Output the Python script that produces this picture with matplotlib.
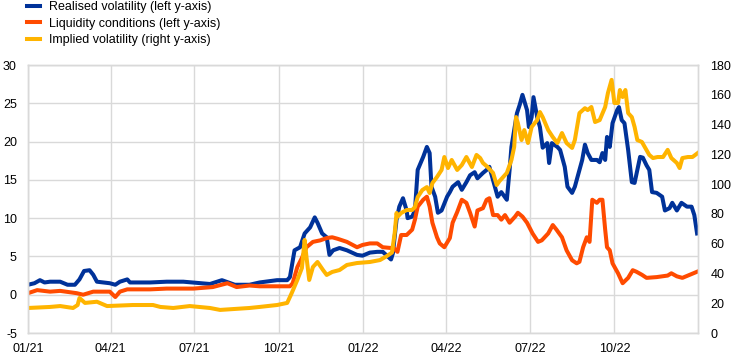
import matplotlib
matplotlib.use("Agg")
import matplotlib.pyplot as plt
import pandas as pd

plt.rcParams['font.family'] = ['Liberation Sans', 'DejaVu Sans']
plt.rcParams['axes.unicode_minus'] = False

# ---------------- data ----------------
real_dates = ["2021-01-01","2021-01-08","2021-01-14","2021-01-19","2021-01-25","2021-02-05","2021-02-13",
 "2021-02-21","2021-02-26","2021-03-03","2021-03-09","2021-03-13","2021-03-17","2021-03-31","2021-04-06",
 "2021-04-11","2021-04-19","2021-04-22","2021-05-14","2021-06-01","2021-06-19","2021-07-18","2021-07-31",
 "2021-08-14","2021-08-30","2021-09-10","2021-09-29","2021-10-10","2021-10-13","2021-10-18","2021-10-24",
 "2021-10-29","2021-11-04","2021-11-09","2021-11-12","2021-11-17","2021-11-22","2021-11-25","2021-11-29",
 "2021-12-06","2021-12-14","2021-12-25","2021-12-31","2022-01-08","2022-01-16","2022-01-22","2022-01-31",
 "2022-02-02","2022-02-06","2022-02-09","2022-02-13","2022-02-17","2022-02-18","2022-02-23","2022-02-26",
 "2022-03-01","2022-03-07","2022-03-11","2022-03-14","2022-03-16","2022-03-20","2022-03-23","2022-03-27",
 "2022-04-02","2022-04-05","2022-04-08","2022-04-14","2022-04-18","2022-04-23","2022-04-27","2022-05-02",
 "2022-05-05","2022-05-11","2022-05-15","2022-05-18","2022-05-24","2022-05-27","2022-05-31","2022-06-06",
 "2022-06-09","2022-06-11","2022-06-17","2022-06-20","2022-06-23","2022-06-28","2022-06-30","2022-07-03",
 "2022-07-05","2022-07-09","2022-07-12","2022-07-15","2022-07-20","2022-07-22","2022-07-25","2022-07-31",
 "2022-08-03","2022-08-08","2022-08-11","2022-08-16","2022-08-19","2022-08-22","2022-08-27","2022-08-30",
 "2022-09-02","2022-09-06","2022-09-12","2022-09-15","2022-09-18","2022-09-21","2022-09-23","2022-09-26",
 "2022-09-29","2022-10-04","2022-10-06","2022-10-09","2022-10-12","2022-10-16","2022-10-20","2022-10-23",
 "2022-10-26","2022-10-29","2022-11-01","2022-11-05","2022-11-08","2022-11-11","2022-11-16","2022-11-22",
 "2022-11-25","2022-11-30","2022-12-03","2022-12-08","2022-12-13","2022-12-19","2022-12-24","2022-12-27",
 "2022-12-30"]
realised = [1.3,1.5,1.9,1.6,1.7,1.7,1.3,
 1.3,2.0,3.1,3.2,2.6,1.7,1.5,1.3,
 1.7,2.0,1.6,1.6,1.7,1.7,1.4,1.9,
 1.3,1.3,1.6,1.9,1.9,2.3,5.8,6.2,
 8.0,8.8,10.1,9.4,8.0,7.5,5.2,5.8,
 6.1,5.8,5.2,5.1,5.5,5.6,5.6,4.6,
 5.4,9.8,11.5,12.6,11.0,10.0,10.2,11.0,
 16.3,18.0,19.3,18.5,14.1,12.8,10.7,11.0,
 12.8,13.4,14.1,14.7,13.7,14.7,15.6,16.0,
 15.2,15.9,16.3,16.7,14.1,12.8,13.4,12.4,
 16.3,19.3,23.7,24.8,26.1,24.1,21.9,23.2,
 25.8,23.2,21.9,19.2,19.8,17.2,19.8,19.3,
 18.9,16.7,14.1,13.3,14.1,15.4,17.6,19.6,
 18.5,17.6,17.6,17.3,18.5,17.6,20.6,19.3,
 22.4,24.1,24.5,22.8,22.4,18.9,14.7,14.6,
 16.3,18.0,17.9,16.9,16.3,13.4,13.3,12.8,
 11.0,11.3,12.0,11.0,12.0,11.5,11.5,10.4,
 8.0]

liq_dates = ["2021-01-01","2021-01-11","2021-01-25","2021-02-05","2021-02-23","2021-03-02","2021-03-13",
 "2021-03-31","2021-04-06","2021-04-11","2021-04-19","2021-05-14","2021-06-01","2021-06-30","2021-07-21",
 "2021-08-06","2021-08-16","2021-08-30","2021-09-10","2021-10-13","2021-10-16","2021-10-21","2021-10-26",
 "2021-10-31","2021-11-07","2021-11-15","2021-11-22","2021-11-28","2021-12-04","2021-12-14","2021-12-25",
 "2021-12-31","2022-01-08","2022-01-16","2022-01-22","2022-01-31","2022-02-02","2022-02-07","2022-02-11",
 "2022-02-17","2022-02-23","2022-02-26","2022-03-01","2022-03-07","2022-03-11","2022-03-14","2022-03-17",
 "2022-03-22","2022-03-25","2022-03-30","2022-04-05","2022-04-08","2022-04-13","2022-04-18","2022-04-23",
 "2022-04-27","2022-05-02","2022-05-05","2022-05-11","2022-05-15","2022-05-18","2022-05-22","2022-05-27",
 "2022-05-31","2022-06-04","2022-06-09","2022-06-15","2022-06-18","2022-06-23","2022-06-28","2022-07-04",
 "2022-07-10","2022-07-14","2022-07-21","2022-07-26","2022-07-30","2022-08-05","2022-08-10","2022-08-16",
 "2022-08-21","2022-08-24","2022-08-28","2022-09-01","2022-09-04","2022-09-07","2022-09-12","2022-09-15",
 "2022-09-18","2022-09-21","2022-09-23","2022-09-26","2022-09-29","2022-10-05","2022-10-10","2022-10-16",
 "2022-10-21","2022-10-25","2022-10-31","2022-11-05","2022-11-16","2022-11-28","2022-12-02","2022-12-08",
 "2022-12-14","2022-12-22","2022-12-30"]
liquidity = [0.2,0.6,0.4,0.5,0.2,0.0,0.4,
 0.4,-0.3,0.4,0.7,0.7,0.8,0.8,1.0,
 1.5,1.0,1.2,1.1,1.1,1.5,3.6,4.8,
 6.2,6.9,7.1,7.4,7.5,7.3,6.9,6.2,
 6.5,6.7,6.7,6.2,6.1,6.2,5.6,7.8,
 7.8,8.5,9.8,11.5,12.4,12.8,11.5,9.4,
 7.5,6.7,6.2,7.4,9.4,10.8,12.4,12.0,
 10.7,8.9,11.0,11.3,12.4,12.6,10.4,10.4,
 9.8,10.4,9.4,10.2,10.7,10.2,9.4,8.0,
 6.9,7.1,8.0,9.1,8.5,7.5,5.8,4.5,
 4.1,4.3,6.2,7.5,6.9,12.4,12.0,12.4,
 12.4,8.5,6.2,5.8,4.1,2.8,1.5,2.2,
 3.2,3.0,2.6,2.2,2.3,2.5,2.8,2.4,
 2.2,2.6,3.0]

impl_dates = ["2021-01-01","2021-01-25","2021-02-05","2021-02-19","2021-02-24","2021-02-26","2021-03-04",
 "2021-03-17","2021-03-28","2021-04-25","2021-05-17","2021-05-25","2021-06-08","2021-06-26","2021-07-18",
 "2021-07-29","2021-08-30","2021-09-10","2021-09-29","2021-10-10","2021-10-15","2021-10-21","2021-10-26",
 "2021-10-29","2021-10-31","2021-11-03","2021-11-07","2021-11-12","2021-11-18","2021-11-22","2021-11-28",
 "2021-12-06","2021-12-14","2021-12-25","2022-01-08","2022-01-19","2022-01-26","2022-02-01","2022-02-04",
 "2022-02-06","2022-02-07","2022-02-11","2022-02-17","2022-02-23","2022-02-26","2022-03-01","2022-03-06",
 "2022-03-11","2022-03-14","2022-03-17","2022-03-22","2022-03-27","2022-03-30","2022-04-03","2022-04-07",
 "2022-04-13","2022-04-18","2022-04-23","2022-04-29","2022-05-04","2022-05-08","2022-05-11","2022-05-16",
 "2022-05-22","2022-05-26","2022-05-29","2022-06-06","2022-06-11","2022-06-14","2022-06-16","2022-06-18",
 "2022-06-22","2022-06-25","2022-06-29","2022-07-03","2022-07-09","2022-07-12","2022-07-15","2022-07-21",
 "2022-07-26","2022-07-31","2022-08-05","2022-08-10","2022-08-16","2022-08-19","2022-08-24","2022-08-30",
 "2022-09-02","2022-09-06","2022-09-10","2022-09-15","2022-09-21","2022-09-24","2022-09-28","2022-10-01",
 "2022-10-05","2022-10-07","2022-10-10","2022-10-13","2022-10-16","2022-10-20","2022-10-23","2022-10-26",
 "2022-10-31","2022-11-03","2022-11-08","2022-11-12","2022-11-17","2022-11-23","2022-11-28","2022-12-02",
 "2022-12-08","2022-12-11","2022-12-14","2022-12-20","2022-12-25","2022-12-31"]
implied = [16.8,17.5,18.1,16.8,18.8,23.5,20.2,
 21.0,18.1,18.8,18.8,17.5,16.8,18.1,16.8,
 15.5,16.8,17.5,18.8,20.2,26.9,35.6,43.6,
 62.5,51.0,35.6,44.3,47.7,42.3,39.0,41.0,
 42.3,45.7,47.0,47.7,49.0,51.5,54.0,67.2,
 80.6,78.0,80.6,82.6,82.6,84.6,91.3,96.0,
 98.0,94.0,100.7,104.8,109.5,118.2,110.8,116.2,
 109.5,112.8,118.2,111.5,119.6,117.5,114.2,111.5,
 107.5,99.4,102.0,107.5,116.2,125.0,145.0,141.0,
 129.6,136.3,127.6,138.4,143.0,148.4,145.0,136.3,
 131.6,127.6,134.3,127.6,124.3,129.6,147.7,151.0,
 149.7,151.8,141.7,143.0,151.8,161.2,170.0,154.5,
 154.5,163.2,158.5,163.2,147.7,145.0,138.4,129.6,
 128.3,125.0,119.6,117.5,118.2,118.2,123.0,117.5,
 114.2,110.8,117.5,118.2,118.2,121.0]

labels = ["Realised volatility (left y-axis)",
          "Liquidity conditions (left y-axis)",
          "Implied volatility (right y-axis)"]
tick_dates = ["2021-01-01","2021-04-01","2021-07-01","2021-10-01",
              "2022-01-01","2022-04-01","2022-07-01","2022-10-01"]
tick_labels = ["01/21","04/21","07/21","10/21","01/22","04/22","07/22","10/22"]

# ---------------- plot ----------------
BLUE = "#003299"
ORANGE = "#ff4b00"
YELLOW = "#ffb400"
GRID = "#d9d9d9"

fig = plt.figure(figsize=(7.44, 3.61), dpi=100)
ax = fig.add_axes([28/744, 28/361, 670/744, 268/361])
ax2 = ax.twinx()

lw = 2.9
l1, = ax.plot(pd.to_datetime(real_dates), realised, color=BLUE, lw=lw, solid_joinstyle='round')
l2, = ax.plot(pd.to_datetime(liq_dates), liquidity, color=ORANGE, lw=lw, solid_joinstyle='round')
l3, = ax2.plot(pd.to_datetime(impl_dates), implied, color=YELLOW, lw=lw, solid_joinstyle='round')

ax.set_xlim(pd.Timestamp("2021-01-01"), pd.Timestamp("2022-12-31"))
ax.set_ylim(-5, 30)
ax.set_yticks(range(-5, 31, 5))
ax2.set_ylim(0, 180)
ax2.set_yticks(range(0, 181, 20))

ax.set_xticks(pd.to_datetime(tick_dates))
ax.set_xticklabels(tick_labels)

ax.grid(True, color=GRID, lw=1.0)
ax.set_axisbelow(True)
ax2.grid(False)

for a in (ax, ax2):
    for s in a.spines.values():
        s.set_color(GRID)
        s.set_linewidth(1.0)
    a.tick_params(length=0, labelsize=9, colors="#000000")
ax.tick_params(axis='y', pad=8)
ax.tick_params(axis='x', pad=7)
ax2.tick_params(axis='y', pad=9)

fig.legend([l1, l2, l3], labels, loc='upper left', bbox_to_anchor=(26/744, 1.0),
           frameon=False, fontsize=9, handlelength=1.0, handletextpad=0.75,
           labelspacing=0.35, borderpad=0.1, borderaxespad=0.0)

fig.savefig("out.png", dpi=100)
